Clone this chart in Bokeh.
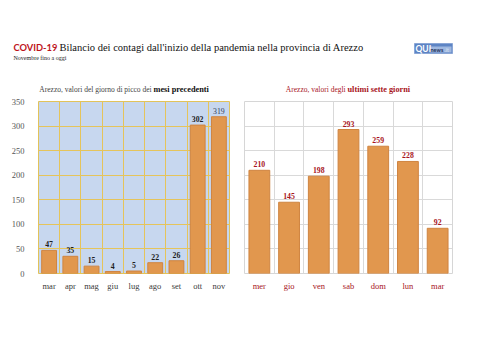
from bokeh.plotting import figure
from bokeh.layouts import column, row
from bokeh.models import ColumnDataSource, Range1d, FixedTicker
from bokeh.core.properties import value
from bokeh.embed import file_html
from bokeh.resources import INLINE

# ---------------- data ----------------
months = ["mar", "apr", "mag", "giu", "lug", "ago", "set", "ott", "nov"]
month_values = [47, 35, 15, 4, 5, 22, 26, 302, 319]
month_label_style = ["bold", "bold", "bold", "bold", "bold", "bold", "bold", "bold", "normal"]
month_label_color = ["#1e1e1e"] * 8 + ["#33405a"]

days = ["mer", "gio", "ven", "sab", "dom", "lun", "mar"]
day_values = [210, 145, 198, 293, 259, 228, 92]

y_ticks = [0, 50, 100, 150, 200, 250, 300, 350]

title_red = "COVID-19"
title_main = "Bilancio dei contagi dall'inizio della pandemia nella provincia di Arezzo"
subtitle = "Novembre fino a oggi"
left_sub_a = "Arezzo, valori del giorno di picco dei "
left_sub_b = "mesi precedenti"
right_sub_a = "Arezzo, valori degli "
right_sub_b = "ultimi sette giorni"

SERIF = "Liberation Serif"
BAR = "#e1974e"
BAR_LINE = "#cf8440"
DARKRED = "#a8151d"

W, H = 487, 344
HEAD_H = 95

# ---------------- header ----------------
head = figure(width=W, height=HEAD_H, x_range=Range1d(0, W), y_range=Range1d(HEAD_H, 0),
              output_backend="svg", toolbar_location=None, min_border=0)
head.axis.visible = False
head.grid.visible = False
head.outline_line_color = None

head.text(x=[13], y=[46.5], text=[title_red], text_font=value("Lato"), text_font_style="bold",
          text_font_size="9.3px", text_color="#be141c", text_baseline="middle")
head.text(x=[59], y=[46.5], text=[title_main], text_font=value(SERIF),
          text_font_size="10.5px", text_color="#111111", text_baseline="middle")
head.text(x=[13], y=[57.5], text=[subtitle], text_font=value(SERIF),
          text_font_size="6px", text_color="#222222", text_baseline="middle")

# logo
head.quad(left=[414], right=[452], top=[43], bottom=[53], fill_color="#5d84c4",
          line_color="#8aa6d6")
head.quad(left=[429], right=[451], top=[46], bottom=[52], fill_color="#9fb8e0",
          line_color=None)
head.text(x=[415], y=[48], text=["QUI"], text_font=value("Lato"), text_font_style="bold",
          text_font_size="8.5px", text_color="white", text_baseline="middle")
head.text(x=[430], y=[49], text=["news"], text_font=value("Lato"), text_font_style="bold",
          text_font_size="5.5px", text_color="#1d2f5a", text_baseline="middle")
head.text(x=[444], y=[49], text=[".it"], text_font=value("Lato"),
          text_font_size="5px", text_color="#d8e2f2", text_baseline="middle")

# chart subtitles (mixed weight)
head.text(x=[153], y=[88.5], text=[left_sub_a], text_font=value(SERIF), text_font_size="7.5px",
          text_color="#444444", text_align="right", text_baseline="middle")
head.text(x=[153], y=[88.5], text=[left_sub_b], text_font=value(SERIF), text_font_size="8.3px",
          text_font_style="bold", text_color="#111111", text_align="left",
          text_baseline="middle")
head.text(x=[347], y=[88.5], text=[right_sub_a], text_font=value(SERIF), text_font_size="7.5px",
          text_color=DARKRED, text_align="right", text_baseline="middle")
head.text(x=[347], y=[88.5], text=[right_sub_b], text_font=value(SERIF), text_font_size="8.3px",
          text_font_style="bold", text_color=DARKRED, text_align="left",
          text_baseline="middle")

ROW_H = H - HEAD_H
TOP = 6
FRAME_H = 172
BOTTOM = ROW_H - TOP - FRAME_H


def cat_chart(cats, vals, width, left, right, bg, grid_color, outline, lab_color,
              lab_style, tick_color):
    n = len(cats)
    pos = [i + 0.5 for i in range(n)]
    src = ColumnDataSource(dict(x=pos, y=vals, lab=[str(v) for v in vals],
                                style=lab_style, color=lab_color))
    p = figure(width=width, height=ROW_H, x_range=Range1d(0, n), y_range=Range1d(0, 350),
               output_backend="svg", toolbar_location=None,
               min_border_left=left, min_border_right=right, min_border_top=TOP,
               min_border_bottom=BOTTOM)
    p.background_fill_color = bg
    p.outline_line_color = outline
    p.xgrid.ticker = FixedTicker(ticks=list(range(1, n)))
    p.xgrid.grid_line_color = grid_color
    p.ygrid.ticker = FixedTicker(ticks=y_ticks)
    p.ygrid.grid_line_color = grid_color
    p.vbar(x="x", top="y", width=0.7, source=src, fill_color=BAR, line_color=BAR_LINE)
    p.text(x="x", y="y", text="lab", source=src, text_font=value(SERIF),
           text_font_style="style", text_font_size="7.8px", text_color="color",
           text_align="center", text_baseline="bottom", y_offset=-3)
    p.xaxis.ticker = FixedTicker(ticks=pos)
    p.xaxis.major_label_overrides = {x: c for x, c in zip(pos, cats)}
    p.xaxis.axis_line_color = None
    p.xaxis.major_tick_line_color = None
    p.xaxis.minor_tick_line_color = None
    p.xaxis.major_label_standoff = 1
    p.xaxis.major_label_text_font = SERIF
    p.xaxis.major_label_text_font_size = "8.5px"
    p.xaxis.major_label_text_color = tick_color
    return p


# ---------------- left chart ----------------
p1 = cat_chart(months, month_values, 237, 38, 8, "#c7d7ef", "#e5c45b", "#e2c35a",
               month_label_color, month_label_style, "#3a3a3a")
p1.yaxis.ticker = FixedTicker(ticks=y_ticks)
p1.yaxis.axis_line_color = None
p1.yaxis.major_tick_line_color = None
p1.yaxis.minor_tick_line_color = None
p1.yaxis.major_label_standoff = 8
p1.yaxis.major_label_text_font = SERIF
p1.yaxis.major_label_text_font_size = "8.5px"
p1.yaxis.major_label_text_color = "#555555"

# ---------------- right chart ----------------
p2 = cat_chart(days, day_values, W - 237, 7, 35, "white", "#d9d9d9", "#d6d6d6",
               [DARKRED] * len(days), ["bold"] * len(days), DARKRED)
p2.yaxis.visible = False

layout = column(head, row(p1, p2))
open("out.html", "w").write(file_html(layout, INLINE))
